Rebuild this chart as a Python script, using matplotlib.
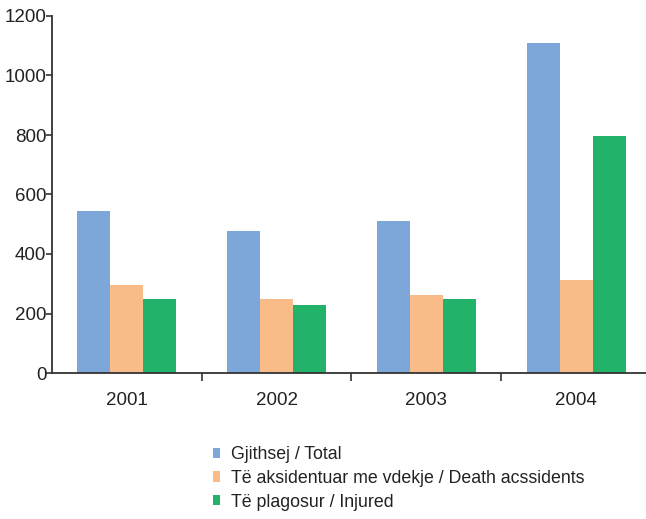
import numpy as np
import matplotlib
matplotlib.use('Agg')
import matplotlib.pyplot as plt
from matplotlib.ticker import FixedLocator

plt.rcParams['font.family'] = ['Liberation Sans', 'DejaVu Sans']

# data
years = ['2001', '2002', '2003', '2004']
total = [546, 476, 510, 1109]
death = [297, 249, 263, 313]
injured = [249, 227, 248, 795]
labels = ['Gjithsej / Total',
          'Të aksidentuar me vdekje / Death acssidents',
          'Të plagosur / Injured']
colors = ['#7ea7d9', '#f9bb87', '#22b26a']

W, H = 646, 519
fig = plt.figure(figsize=(W / 100, H / 100), dpi=100)
ax = fig.add_axes([52 / W, (H - 373) / H, (W - 52) / W, (373 - 16) / H])

x = np.arange(len(years))
bw = 0.22
series = [total, death, injured]
for i, vals in enumerate(series):
    ax.bar(x + (i - 1) * bw, vals, width=bw, color=colors[i],
           label=labels[i], linewidth=0, zorder=2)

ax.set_ylim(0, 1200)
ax.set_xlim(-0.5, 3.5 - 5 / 150)
ax.set_yticks(range(0, 1201, 200))
ax.set_xticks(x)
ax.set_xticklabels(years)
ax.xaxis.set_minor_locator(FixedLocator([0.5, 1.5, 2.5]))

for s in ['top', 'right']:
    ax.spines[s].set_visible(False)
for s in ['left', 'bottom']:
    ax.spines[s].set_color('#333333')
    ax.spines[s].set_linewidth(1.3)

ax.tick_params(axis='y', length=4, width=1.2, color='#333333', pad=0,
               labelsize=13.5, labelcolor='#222222')
ax.tick_params(axis='x', which='major', length=0, pad=14,
               labelsize=13.5, labelcolor='#222222')
ax.tick_params(axis='x', which='minor', length=6, width=1.2, color='#333333')

leg = ax.legend(loc='upper left', bbox_to_anchor=(213 / W, 1 - 446 / H),
                bbox_transform=fig.transFigure, frameon=False,
                fontsize=12.8, handlelength=0.42, handleheight=0.5,
                handletextpad=0.62, labelspacing=0.38, borderpad=0,
                borderaxespad=0)
for t in leg.get_texts():
    t.set_color('#222222')

fig.savefig('out.png', dpi=100)
